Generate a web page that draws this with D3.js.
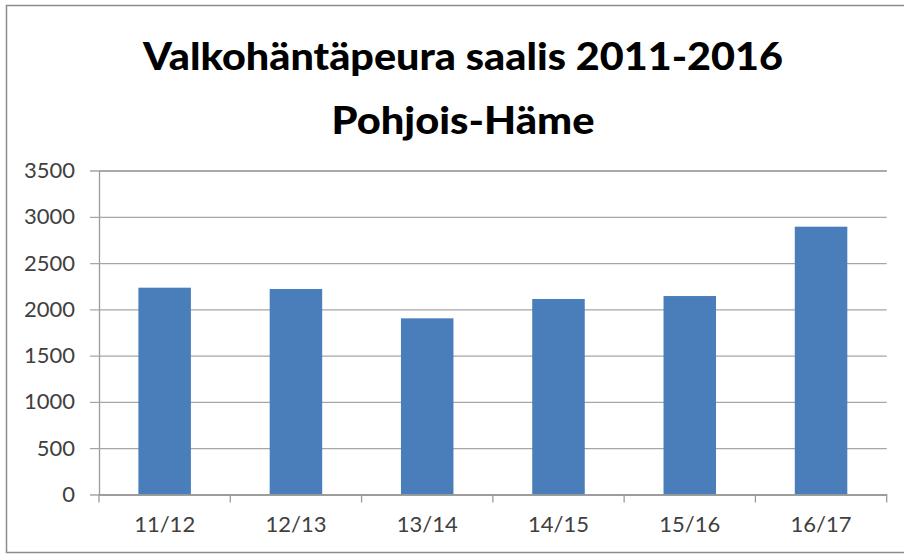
<!DOCTYPE html>
<html>
<head>
<meta charset="utf-8">
<script src="https://cdn.jsdelivr.net/npm/d3@7/dist/d3.min.js"></script>
<style>
  html, body { margin: 0; padding: 0; background: #fff; }
  svg { display: block; }
</style>
</head>
<body>
<svg id="chart" width="904" height="557"></svg>
<script>
const titleLines = ["Valkohäntäpeura saalis 2011-2016", "Pohjois-Häme"];
const categories = ["11/12", "12/13", "13/14", "14/15", "15/16", "16/17"];
const values = [2234, 2220, 1903, 2112, 2144, 2893];
const yTicks = [0, 500, 1000, 1500, 2000, 2500, 3000, 3500];

const svg = d3.select("#chart");

// chart frame
svg.append("rect")
  .attr("x", 6.5).attr("y", 5.5)
  .attr("width", 920).attr("height", 547)
  .attr("fill", "#fff")
  .attr("stroke", "#8c8c8c").attr("stroke-width", 1.5);

const plot = { left: 99, right: 886.7, top: 170.5, bottom: 494.5 };

const x = d3.scaleBand().domain(categories)
  .range([plot.left, plot.right]).paddingInner(0.6).paddingOuter(0.3);
const xOuter = d3.scaleBand().domain(categories).range([plot.left, plot.right]);
const y = d3.scaleLinear().domain([0, 3500]).range([plot.bottom, plot.top]);

// title
const title = svg.append("g");
const titleWidths = [640, 263];
const titleBaselines = [69.5, 134];
titleLines.forEach((t, i) => {
  title.append("text")
    .attr("x", 463).attr("y", titleBaselines[i])
    .attr("text-anchor", "middle")
    .attr("font-family", "Lato, 'Open Sans', sans-serif")
    .attr("font-weight", "900")
    .attr("font-size", 38.5)
    .attr("fill", "#000")
    .attr("textLength", titleWidths[i])
    .attr("lengthAdjust", "spacingAndGlyphs")
    .text(t);
});

// y gridlines + ticks
const yAxis = d3.axisLeft(y).tickValues(yTicks)
  .tickSize(-(plot.right - plot.left)).tickPadding(14).tickFormat(d3.format("d"));
const gy = svg.append("g").attr("transform", `translate(${plot.left},0)`).call(yAxis);
gy.select(".domain").attr("stroke", "#9a9a9a").attr("stroke-width", 1.3);
gy.selectAll(".tick line")
  .attr("x1", -9).attr("stroke", "#a6a6a6").attr("stroke-width", 1.3);
gy.selectAll(".tick text")
  .attr("x", 75 - plot.left)
  .attr("font-family", "Lato, 'Open Sans', sans-serif")
  .attr("font-size", 22)
  .attr("fill", "#404040");

// bars
svg.append("g").selectAll("rect").data(categories).join("rect")
  .attr("x", d => x(d))
  .attr("width", x.bandwidth())
  .attr("y", (d, i) => y(values[i]))
  .attr("height", (d, i) => y(0) - y(values[i]))
  .attr("fill", "#4a7ebb");

// x axis
const xAxis = d3.axisBottom(xOuter).tickSize(0).tickPadding(22);
const gx = svg.append("g").attr("transform", `translate(0,${plot.bottom})`).call(xAxis);
gx.select(".domain").attr("stroke", "#9a9a9a").attr("stroke-width", 1.3);
gx.selectAll(".tick text")
  .attr("font-family", "Lato, 'Open Sans', sans-serif")
  .attr("font-size", 22)
  .attr("fill", "#404040");
// category boundary tick marks
const bounds = categories.map(c => xOuter(c)).concat([plot.right]);
gx.append("g").selectAll("line").data(bounds).join("line")
  .attr("x1", d => d).attr("x2", d => d)
  .attr("y1", 0).attr("y2", 8)
  .attr("stroke", "#9a9a9a").attr("stroke-width", 1.3);
</script>
</body>
</html>
